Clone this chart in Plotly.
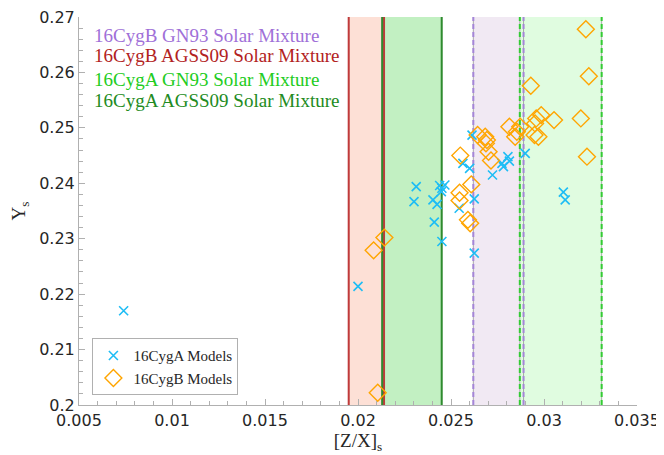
import plotly.graph_objects as go

# ---- data ----
a_x = [0.0074, 0.0200, 0.02313, 0.02301, 0.0241, 0.02403, 0.02425, 0.02439, 0.02451,
       0.02467, 0.02448, 0.02451, 0.02544, 0.02564, 0.0260, 0.02613, 0.02625, 0.02625,
       0.02723, 0.02774, 0.02782, 0.02806, 0.02814, 0.02899, 0.03104, 0.03114]
a_y = [0.2170, 0.2214, 0.2394, 0.2367, 0.2330, 0.2370, 0.2362, 0.2396, 0.2391,
       0.2397, 0.2385, 0.2295, 0.2355, 0.2436, 0.2427, 0.2487, 0.2372, 0.2274,
       0.2415, 0.2436, 0.2430, 0.2448, 0.2440, 0.2454, 0.2384, 0.2370]

b_x = [0.02106, 0.02084, 0.02142, 0.02591, 0.02603, 0.02546, 0.02546, 0.02609, 0.02550,
       0.02643, 0.02684, 0.02693, 0.02688, 0.02702, 0.02715, 0.02814, 0.02845, 0.02854,
       0.02872, 0.02929, 0.02958, 0.02952, 0.02949, 0.02970, 0.02985, 0.03054, 0.03198,
       0.03225, 0.03241, 0.03231]
b_y = [0.2022, 0.2279, 0.2302, 0.2334, 0.2328, 0.2369, 0.2383, 0.2398, 0.2450,
       0.2487, 0.2484, 0.2478, 0.2472, 0.2457, 0.2441, 0.2502, 0.2484, 0.2493,
       0.2502, 0.2576, 0.2517, 0.2508, 0.2487, 0.2484, 0.2523, 0.2514, 0.2517,
       0.2678, 0.2593, 0.2448]

# solar mixture ranges [low, high]
band_names = ["16CygB GN93 Solar Mixture", "16CygB AGSS09 Solar Mixture",
              "16CygA GN93 Solar Mixture", "16CygA AGSS09 Solar Mixture"]
band_lo = [0.0262, 0.0195, 0.0287, 0.0213]
band_hi = [0.0289, 0.0214, 0.0331, 0.0245]

x_ticks = [0.005, 0.01, 0.015, 0.02, 0.025, 0.03, 0.035]
x_labels = ["0.005", "0.01", "0.015", "0.02", "0.025", "0.03", "0.035"]
y_ticks = [0.2, 0.21, 0.22, 0.23, 0.24, 0.25, 0.26, 0.27]
y_labels = ["0.2", "0.21", "0.22", "0.23", "0.24", "0.25", "0.26", "0.27"]

# ---- styles ----
band_fill = ["#f1e9f3", "#fde0d6", "#e0fce0", "#c2f0c2"]
band_line = ["#a585d8", "#c03a3a", "#33cc33", "#2e8b2e"]
band_dash = ["5px,3px", "solid", "5px,3px", "solid"]
text_col = ["#a070d8", "#b22222", "#22cc22", "#228b22"]
serif = "Liberation Serif"

fig = go.Figure()

order = [1, 3, 0, 2]
shapes = []
for i in order:
    shapes.append(dict(type="rect", xref="x", yref="paper", x0=band_lo[i], x1=band_hi[i],
                       y0=0, y1=1, fillcolor=band_fill[i], line=dict(width=0), layer="below"))
for i in order:
    for xv in (band_lo[i], band_hi[i]):
        shapes.append(dict(type="line", xref="x", yref="paper", x0=xv, x1=xv, y0=0, y1=1,
                           line=dict(color="rgba(150,150,150,0.8)", width=1), layer="below"))
for i in order:
    for xv in (band_lo[i], band_hi[i]):
        shapes.append(dict(type="line", xref="x", yref="paper", x0=xv, x1=xv, y0=0, y1=1,
                           line=dict(color=band_line[i], width=2, dash=band_dash[i]),
                           layer="below"))

fig.add_trace(go.Scatter(x=a_x, y=a_y, mode="markers", name="16CygA Models",
                         marker=dict(symbol="x-thin-open", size=9, color="#1ebdf5",
                                     line=dict(color="#1ebdf5", width=1.6))))
fig.add_trace(go.Scatter(x=b_x, y=b_y, mode="markers", name="16CygB Models",
                         marker=dict(symbol="diamond-open", size=13, color="#ffa500",
                                     line=dict(color="#ffa500", width=1.4))))

ann_y = [0.9536, 0.8995, 0.840, 0.784]
annotations = []
for i in range(4):
    annotations.append(dict(xref="paper", yref="paper", x=0.024, y=ann_y[i],
                            xanchor="left", yanchor="middle", showarrow=False,
                            text=band_names[i], font=dict(family=serif, size=19, color=text_col[i])))

# page body has an 8px default margin, so the figure is sized to fit inside the window
fig.update_layout(
    width=656, height=447,
    margin=dict(l=71, r=27, t=9, b=50),
    plot_bgcolor="white", paper_bgcolor="white",
    shapes=shapes, annotations=annotations,
    showlegend=True,
    legend=dict(x=0.024, y=0.025, xanchor="left", yanchor="bottom",
                bgcolor="white", bordercolor="#b0b0b0", borderwidth=1,
                font=dict(family=serif, size=15, color="#262626"),
                tracegroupgap=0, itemwidth=30),
)
axis_common = dict(showgrid=False, zeroline=False, showline=True, linecolor="#b0b0b0",
                   linewidth=1, ticks="inside", ticklen=6, tickcolor="#b0b0b0",
                   automargin=False, ticklabeloverflow="allow",
                   tickfont=dict(family="DejaVu Sans", size=16, color="#262626"))
fig.update_xaxes(range=[0.005, 0.035], tickvals=x_ticks, ticktext=x_labels,
                 minor=dict(ticks="inside", dtick=0.001, ticklen=4, tickcolor="#b0b0b0"),
                 ticklabelstandoff=1,
                 title=dict(text="[Z/X]<sub>s</sub>", font=dict(family=serif, size=19, color="#262626"),
                            standoff=0),
                 **axis_common)
fig.update_yaxes(range=[0.2, 0.27], tickvals=y_ticks, ticktext=y_labels,
                 minor=dict(ticks="inside", dtick=0.002, ticklen=4, tickcolor="#b0b0b0"),
                 title=dict(text="Y<sub>s</sub>", font=dict(family=serif, size=19, color="#262626"),
                            standoff=10),
                 **axis_common)

fig.write_html("out.html")
